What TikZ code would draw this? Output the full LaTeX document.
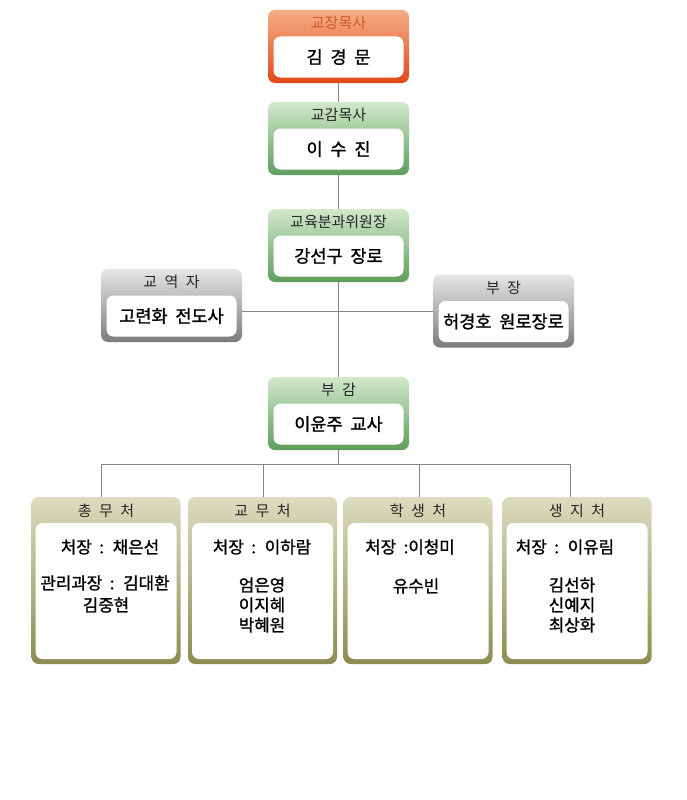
\documentclass[tikz,border=0pt]{standalone}
\usepackage{fontspec}
\newfontfamily\kr{Noto Sans CJK KR}
\newfontfamily\krname[FakeBold=1.2,WordSpace=2]{Noto Sans CJK KR}
\newfontfamily\krtitle[WordSpace=2.2]{Noto Sans CJK KR}
\definecolor{orTop}{HTML}{F6AE86}
\definecolor{orBot}{HTML}{E0491A}
\definecolor{orTxt}{HTML}{D25A28}
\definecolor{grTop}{HTML}{D2E8CC}
\definecolor{grBot}{HTML}{5E9E5C}
\definecolor{gyTop}{HTML}{E6E6E6}
\definecolor{gyBot}{HTML}{7C7C7C}
\definecolor{olTop}{HTML}{DCDCC0}
\definecolor{olBot}{HTML}{8C8C52}
\definecolor{lineC}{HTML}{858585}
\tikzset{
  outerbox/.style={rounded corners=7pt, minimum width=141pt, minimum height=73pt, inner sep=0pt},
  innerbox/.style={fill=white, rounded corners=7pt, minimum width=130pt, minimum height=41pt, inner sep=0pt, font=\krname\fontsize{17.5}{20}\selectfont, text=black},
  titletxt/.style={inner sep=0pt, font=\krtitle\fontsize{15}{17}\selectfont, text=black!85},
  orangebox/.style={outerbox, top color=orTop, bottom color=orBot},
  greenbox/.style={outerbox, top color=grTop, bottom color=grBot},
  graybox/.style={outerbox, top color=gyTop, bottom color=gyBot},
  olivebox/.style={rounded corners=7pt, minimum width=149pt, minimum height=167pt, inner sep=0pt, top color=olTop, bottom color=olBot},
  oliveinner/.style={fill=white, rounded corners=7pt, minimum width=141pt, minimum height=136pt, inner sep=0pt},
  bodytxt/.style={inner sep=0pt, font=\krname\fontsize{16.8}{19}\selectfont, text=black},
  conn/.style={draw=lineC, line width=1pt}
}
\begin{document}
\begin{tikzpicture}[x=1pt,y=-1pt]
\useasboundingbox (0,0) rectangle (686,800);
\fill[white] (0,0) rectangle (686,800);
\coordinate (hm) at (338.5,311);
\coordinate (hb) at (338.5,464);
\coordinate (d1) at (101.5,464);
\coordinate (d2) at (263,464);
\coordinate (d3) at (419,464);
\coordinate (d4) at (570,464);
% top chain
\node[orangebox] (b1) at (338.5,46.5) {};
\node[innerbox] (b1i) at (338.5,57) {김 경 문};
\node[titletxt, text=orTxt] (b1t) at (338.5,23) {교장목사};

\node[greenbox] (b2) at (338.5,138.5) {};
\node[innerbox] (b2i) at (338.5,149) {이 수 진};
\node[titletxt] (b2t) at (338.5,115) {교감목사};

\node[greenbox] (b3) at (338.5,245.5) {};
\node[innerbox] (b3i) at (338.5,256) {강선구 장로};
\node[titletxt] (b3t) at (338.5,222) {교육분과위원장};

\node[graybox] (k1) at (171.5,305.5) {};
\node[innerbox] (k1i) at (171.5,316) {고련화 전도사};
\node[titletxt] (k1t) at (171.5,282) {교 역 자};

\node[graybox] (k2) at (503.5,311) {};
\node[innerbox] (k2i) at (503.5,321.5) {허경호 원로장로};
\node[titletxt] (k2t) at (503.5,287.5) {부 장};

\node[greenbox] (b4) at (338.5,413.5) {};
\node[innerbox] (b4i) at (338.5,424) {이윤주 교사};
\node[titletxt] (b4t) at (338.5,390) {부 감};

% bottom boxes
\node[olivebox] (t1) at (106,580.5) {};
\node[oliveinner] (t1i) at (106,591) {};
\node[titletxt] (t1t) at (106,511) {총 무 처};
\node[bodytxt] (t1a) at (110,547) {처장 : 채은선};
\node[bodytxt] (t1b) at (105,583) {관리과장 : 김대환};
\node[bodytxt] (t1c) at (106,605) {김중현};

\node[olivebox] (t2) at (262.5,580.5) {};
\node[oliveinner] (t2i) at (262.5,591) {};
\node[titletxt] (t2t) at (262.5,511) {교 무 처};
\node[bodytxt] (t2a) at (262,547) {처장 : 이하람};
\node[bodytxt] (t2b) at (262,585) {엄은영};
\node[bodytxt] (t2c) at (262,605) {이지혜};
\node[bodytxt] (t2d) at (262,625) {박혜원};

\node[olivebox] (t3) at (418,580.5) {};
\node[oliveinner] (t3i) at (418,591) {};
\node[titletxt] (t3t) at (418,511) {학 생 처};
\node[bodytxt] (t3a) at (410,547) {처장 :이청미};
\node[bodytxt] (t3b) at (416,586) {유수빈};

\node[olivebox] (t4) at (577,580.5) {};
\node[oliveinner] (t4i) at (577,591) {};
\node[titletxt] (t4t) at (577,511) {생 지 처};
\node[bodytxt] (t4a) at (565,547) {처장 : 이유림};
\node[bodytxt] (t4b) at (572,585) {김선하};
\node[bodytxt] (t4c) at (572,605) {신예지};
\node[bodytxt] (t4d) at (572,625) {최상화};

% connectors
\draw[conn] (b1.south) -- (b2.north);
\draw[conn] (b2.south) -- (b3.north);
\draw[conn] (b3.south) -- (b4.north);
\draw[conn] (k1.east |- hm) -- (k2.west |- hm);
\draw[conn] (b4.south) -- (hb);
\draw[conn] (d1) -- (d4);
\draw[conn] (d1) -- (d1 |- t1.north);
\draw[conn] (d2) -- (d2 |- t2.north);
\draw[conn] (d3) -- (d3 |- t3.north);
\draw[conn] (d4) -- (d4 |- t4.north);
\end{tikzpicture}
\end{document}
